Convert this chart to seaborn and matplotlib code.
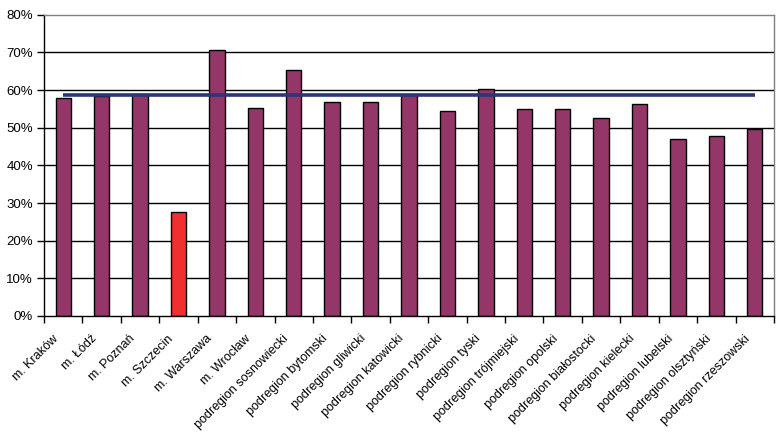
import matplotlib
matplotlib.use("Agg")
import matplotlib.pyplot as plt
import matplotlib.transforms as mtransforms
import seaborn as sns
import pandas as pd
import numpy as np
from matplotlib.ticker import PercentFormatter, FixedLocator

categories = ["m. Kraków", "m. Łódź", "m. Poznań", "m. Szczecin", "m. Warszawa", "m. Wrocław",
              "podregion sosnowiecki", "podregion bytomski", "podregion gliwicki",
              "podregion katowicki", "podregion rybnicki", "podregion tyski",
              "podregion trójmiejski", "podregion opolski", "podregion białostocki",
              "podregion kielecki", "podregion lubelski", "podregion olsztyński",
              "podregion rzeszowski"]
values = [57.8, 58.3, 58.9, 27.5, 70.5, 55.1, 65.2, 56.7, 56.7, 58.8, 54.3, 60.4,
          54.9, 54.9, 52.5, 56.2, 46.9, 47.7, 49.6]
average = 58.8
highlight = "m. Szczecin"

sns.set_theme(style="white")
plt.rcParams['font.family'] = ['Liberation Sans', 'DejaVu Sans']

df = pd.DataFrame({"cat": categories, "val": values})
palette = {c: ("#f03030" if c == highlight else "#943668") for c in categories}

fig = plt.figure(figsize=(7.77, 4.32), dpi=100)
ax = fig.add_axes([44/777, 1 - 316/432, (774-44)/777, (316-14.7)/432])

ax.set_axisbelow(True)
for g in range(10, 80, 10):
    ax.axhline(g, color="black", lw=1.0, zorder=0)

sns.barplot(data=df, x="cat", y="val", hue="cat", palette=palette, legend=False,
            width=0.4, saturation=1, edgecolor="black", linewidth=1.0, ax=ax, zorder=2)

ax.hlines(average, 0, len(categories) - 1, color="#2b3673", lw=2.6, zorder=3)

ax.set_ylim(0, 80)
ax.set_xlim(-0.5, len(categories) - 0.5)
ax.yaxis.set_major_locator(FixedLocator(np.arange(0, 81, 10)))
ax.yaxis.set_major_formatter(PercentFormatter(decimals=0))
ax.set_xlabel("")
ax.set_ylabel("")

ax.set_xticks(range(len(categories)))
ax.set_xticklabels(categories, rotation=45, ha="right", rotation_mode="anchor",
                   fontsize=9, color="black")
ax.tick_params(axis="x", which="major", length=0, pad=12)
offset = mtransforms.ScaledTranslation(-11/100, 0, fig.dpi_scale_trans)
for lbl in ax.get_xticklabels():
    lbl.set_transform(lbl.get_transform() + offset)
ax.set_xticks(np.arange(-0.5, len(categories), 1.0), minor=True)
ax.tick_params(axis="x", which="minor", length=5, width=1, color="black", direction="out", bottom=True)
ax.tick_params(axis="y", length=5, width=1, color="black", direction="out", left=True,
               labelsize=9.5, labelcolor="black", pad=3)

for s in ["left", "bottom"]:
    ax.spines[s].set_color("black")
    ax.spines[s].set_linewidth(1)
for s in ["top", "right"]:
    ax.spines[s].set_visible(True)
    ax.spines[s].set_color("#808080")
    ax.spines[s].set_linewidth(1)

fig.savefig("out.png", dpi=100)
